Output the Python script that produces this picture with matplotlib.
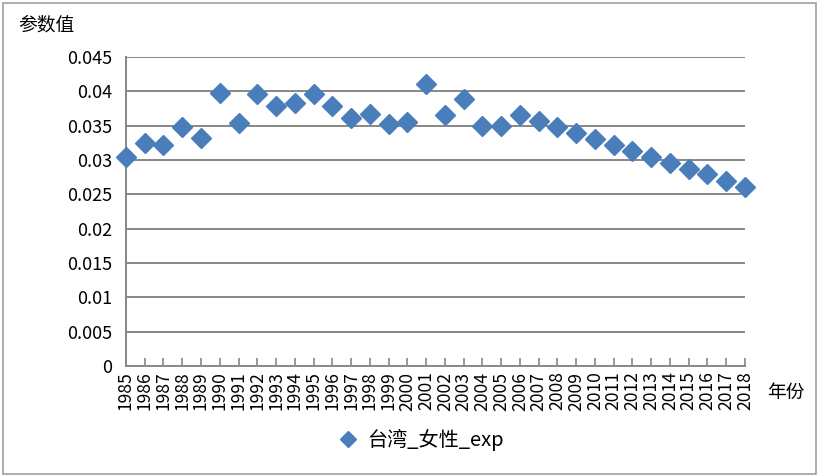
import matplotlib
matplotlib.use('Agg')
import matplotlib.pyplot as plt
from matplotlib.patches import Rectangle

plt.rcParams['font.family'] = ['Noto Sans CJK SC', 'DejaVu Sans']

# 数据
years = list(range(1985, 2019))
values = [0.0305, 0.0325, 0.0322, 0.0348, 0.0332, 0.0397, 0.0354, 0.0396,
          0.0379, 0.0383, 0.0396, 0.0379, 0.0361, 0.0367, 0.0352, 0.0356,
          0.0410, 0.0366, 0.0389, 0.0350, 0.0350, 0.0366, 0.0357, 0.0348,
          0.0340, 0.0331, 0.0322, 0.0313, 0.0305, 0.0296, 0.0287, 0.0279,
          0.0270, 0.0261]
series_name = '台湾_女性_exp'
y_ticks = [0, 0.005, 0.01, 0.015, 0.02, 0.025, 0.03, 0.035, 0.04, 0.045]
y_labels = ['0', '0.005', '0.01', '0.015', '0.02', '0.025', '0.03', '0.035', '0.04', '0.045']

blue = '#4A7EBB'
grey = '#878787'

fig = plt.figure(figsize=(8.19, 4.76), dpi=100)
ax = fig.add_axes([0.1538, 0.2311, 0.9096 - 0.1538, 0.8803 - 0.2311])

ax.plot(years, values, linestyle='none', marker='D', markersize=10.5,
        color=blue, label=series_name, zorder=3, clip_on=False)

ax.set_xlim(1985, 2018)
ax.set_ylim(0, 0.045)
ax.set_yticks(y_ticks)
ax.set_yticklabels(y_labels, fontsize=13)
ax.set_xticks(years)
ax.set_xticklabels([str(y) for y in years], rotation=90, fontsize=12.6)

ax.yaxis.grid(True, color=grey, linewidth=1.4)
ax.set_axisbelow(True)
for s in ['top', 'right']:
    ax.spines[s].set_visible(False)
for s in ['left', 'bottom']:
    ax.spines[s].set_color(grey)
    ax.spines[s].set_linewidth(1.4)
ax.tick_params(axis='y', length=0, pad=10)
ax.tick_params(axis='x', direction='in', length=6, color=grey, width=1.2, pad=4)

fig.text(0.022, 0.947, '参数值', fontsize=13.5, ha='left', va='center')
fig.text(0.937, 0.176, '年份', fontsize=13.5, ha='left', va='center')

fig.legend(loc='center', bbox_to_anchor=(0.508, 0.076), frameon=False,
           fontsize=14.5, handletextpad=0.0, markerscale=0.8)

fig.patches.append(Rectangle((0.004, 0.004), 0.992, 0.99, transform=fig.transFigure,
                             fill=False, edgecolor='#A0A0A0', linewidth=1.2))

fig.savefig('out.png', dpi=100)
